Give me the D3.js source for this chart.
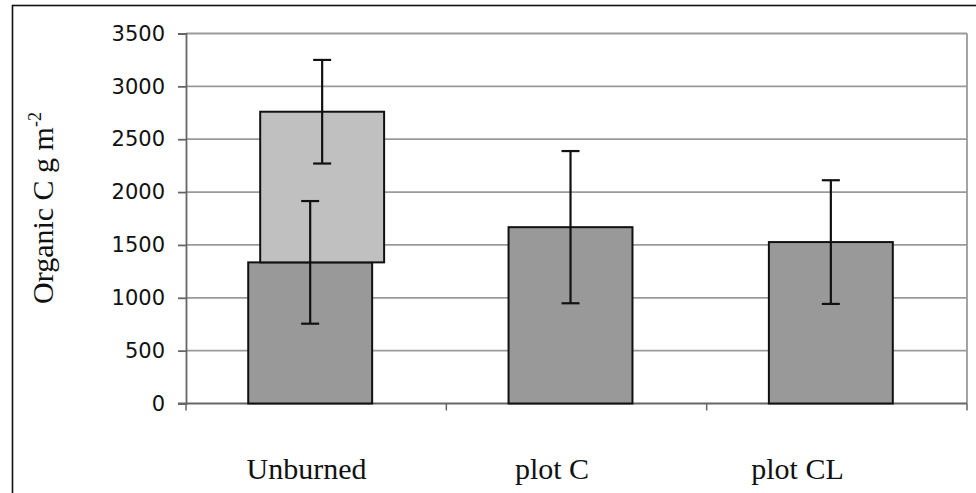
<!DOCTYPE html>
<html lang="en">
<head>
    <meta charset="UTF-8">
    <script src="https://d3js.org/d3.v7.min.js"></script>
    <style>
        html, body {
            margin: 0;
            padding: 0;
            background: #fff;
            overflow: hidden;
        }
        .tick-label {
            font-family: "DejaVu Sans", sans-serif;
            font-size: 21px;
            fill: #111;
        }
        .cat-label, .y-title {
            font-family: "Liberation Serif", "Times New Roman", serif;
            fill: #111;
        }
    </style>
</head>
<body>
    <svg id="chart"></svg>

    <script>
        // data
        const categories = ["Unburned", "plot C", "plot CL"];
        const organicC = [1335, 1668, 1527];          // dark series
        const organicCErr = [580, 720, 585];
        const upperC = [2760, null, null];            // light series (Unburned only)
        const upperCErr = [490, null, null];
        const yTicks = [0, 500, 1000, 1500, 2000, 2500, 3000, 3500];

        const width = 976;
        const height = 493;
        const margin = { top: 33.5, right: 9, bottom: 89.5, left: 186 };

        const svg = d3.select("#chart")
            .attr("width", width)
            .attr("height", height);

        // outer frame (right/bottom run off the picture)
        svg.append("rect")
            .attr("x", 12.5).attr("y", 5.5)
            .attr("width", width + 20).attr("height", height + 20)
            .attr("fill", "#fff")
            .attr("stroke", "#111")
            .attr("stroke-width", 1.6);

        const x = d3.scaleBand()
            .domain(categories)
            .range([margin.left, width - margin.right])
            .padding(0);

        const y = d3.scaleLinear()
            .domain([0, 3500])
            .range([height - margin.bottom, margin.top]);

        // category labels sit a bit left of the band centres in the original
        const xLabel = d3.scalePoint()
            .domain(categories)
            .range([306.5, 797.5]);

        const bw = x.bandwidth();
        const barW = bw * 0.476;
        const shift = bw * 0.046;   // overlap offset between the two series

        // gridlines
        svg.append("g")
            .selectAll("line")
            .data(yTicks.filter(d => d > 0))
            .enter()
            .append("line")
            .attr("x1", margin.left).attr("x2", width - margin.right)
            .attr("y1", d => y(d)).attr("y2", d => y(d))
            .attr("stroke", "#9a9a9a")
            .attr("stroke-width", 1.8);

        // right edge of plot area
        svg.append("line")
            .attr("x1", width - margin.right).attr("x2", width - margin.right)
            .attr("y1", y(3500)).attr("y2", y(0))
            .attr("stroke", "#9a9a9a")
            .attr("stroke-width", 1.8);

        // y axis
        const yAxis = svg.append("g")
            .attr("transform", `translate(${margin.left},0)`)
            .call(d3.axisLeft(y).tickValues(yTicks).tickFormat(d3.format("d"))
                .tickSize(8).tickPadding(13));
        yAxis.select(".domain").attr("stroke", "#666").attr("stroke-width", 1.8);
        yAxis.selectAll(".tick line").attr("stroke", "#666").attr("stroke-width", 1.8);
        yAxis.attr("font-family", null).attr("font-size", null);
        yAxis.selectAll(".tick text").attr("class", "tick-label");

        // x axis with boundary ticks
        const xAxisG = svg.append("g");
        xAxisG.append("line")
            .attr("x1", margin.left - 8).attr("x2", width - margin.right)
            .attr("y1", y(0)).attr("y2", y(0))
            .attr("stroke", "#666").attr("stroke-width", 1.8);
        const bounds = categories.map(c => x(c)).concat([x(categories[categories.length - 1]) + bw]);
        xAxisG.selectAll(".xt")
            .data(bounds)
            .enter()
            .append("line")
            .attr("x1", d => d).attr("x2", d => d)
            .attr("y1", y(0)).attr("y2", y(0) + 7)
            .attr("stroke", "#666").attr("stroke-width", 1.5);

        const rows = categories.map((c, i) => ({
            cat: c, v: organicC[i], e: organicCErr[i], up: upperC[i], upE: upperCErr[i]
        }));

        // dark bars
        svg.selectAll(".bar-dark")
            .data(rows)
            .enter()
            .append("rect")
            .attr("class", "bar-dark")
            .attr("x", d => x(d.cat) + bw / 2 - shift / 2 - barW / 2)
            .attr("y", d => y(d.v))
            .attr("width", barW)
            .attr("height", d => y(0) - y(d.v))
            .attr("fill", "#999999")
            .attr("stroke", "#111")
            .attr("stroke-width", 2);

        // light bars sit on top of the dark ones
        const lightRows = rows.filter(d => d.up != null);
        svg.selectAll(".bar-light")
            .data(lightRows)
            .enter()
            .append("rect")
            .attr("class", "bar-light")
            .attr("x", d => x(d.cat) + bw / 2 + shift / 2 - barW / 2)
            .attr("y", d => y(d.up))
            .attr("width", barW)
            .attr("height", d => y(d.v) - y(d.up))
            .attr("fill", "#c0c0c0")
            .attr("stroke", "#111")
            .attr("stroke-width", 2);

        // error bars
        function errorBar(g, cx, v, e) {
            const cap = 9;
            g.append("line")
                .attr("x1", cx).attr("x2", cx)
                .attr("y1", y(v + e)).attr("y2", y(v - e));
            g.append("line")
                .attr("x1", cx - cap).attr("x2", cx + cap)
                .attr("y1", y(v + e)).attr("y2", y(v + e));
            g.append("line")
                .attr("x1", cx - cap).attr("x2", cx + cap)
                .attr("y1", y(v - e)).attr("y2", y(v - e));
        }
        const errG = svg.append("g").attr("stroke", "#111").attr("stroke-width", 2.2);
        rows.forEach(d => {
            errorBar(errG, x(d.cat) + bw / 2 - shift / 2, d.v, d.e);
        });
        lightRows.forEach(d => {
            errorBar(errG, x(d.cat) + bw / 2 + shift / 2, d.up, d.upE);
        });

        // category labels
        svg.selectAll(".cat-label")
            .data(categories)
            .enter()
            .append("text")
            .attr("class", "cat-label")
            .attr("x", d => xLabel(d))
            .attr("y", 479)
            .attr("text-anchor", "middle")
            .attr("font-size", 30)
            .text(d => d);

        // y title
        const yt = svg.append("text")
            .attr("class", "y-title")
            .attr("transform", "translate(53,208) rotate(-90)")
            .attr("text-anchor", "middle")
            .attr("font-size", 30);
        yt.append("tspan").text("Organic C g m");
        yt.append("tspan").attr("dy", -12).attr("font-size", 18).text("-2");
    </script>
</body>
</html>
